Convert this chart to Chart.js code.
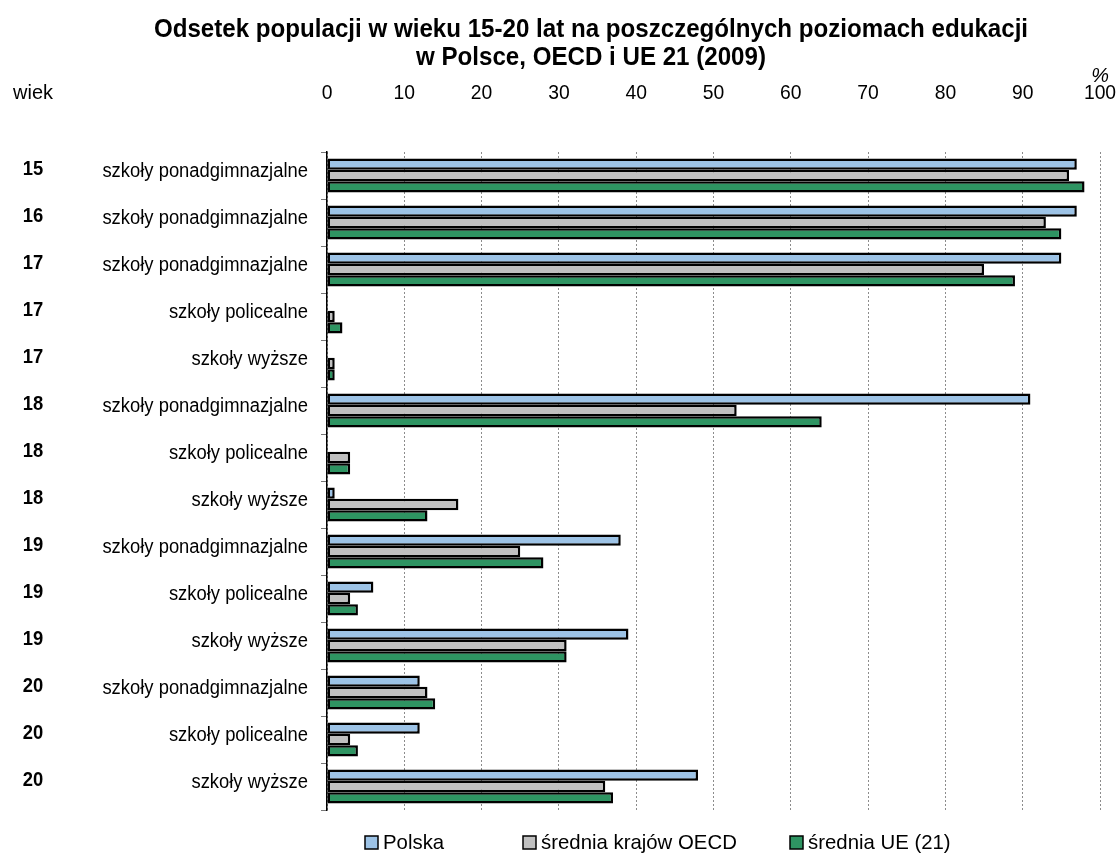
<!DOCTYPE html>
<html>
<head>
<meta charset="utf-8">
<script src="https://cdn.jsdelivr.net/npm/chart.js@4"></script>
<style>
  body { margin: 0; background: #fff; }
  #wrap { width: 1119px; height: 857px; }
</style>
</head>
<body>
<div id="wrap"><canvas id="chartOne" width="1119" height="857"></canvas></div>
<script>
// data
const ages = ["15", "16", "17", "17", "17", "18", "18", "18", "19", "19", "19", "20", "20", "20"];
const levels = [
  "szkoły ponadgimnazjalne", "szkoły ponadgimnazjalne", "szkoły ponadgimnazjalne",
  "szkoły policealne", "szkoły wyższe",
  "szkoły ponadgimnazjalne", "szkoły policealne", "szkoły wyższe",
  "szkoły ponadgimnazjalne", "szkoły policealne", "szkoły wyższe",
  "szkoły ponadgimnazjalne", "szkoły policealne", "szkoły wyższe"
];
const polska = [97, 97, 95, 0, 0, 91, 0, 1, 38, 6, 39, 12, 12, 48];
const oecd   = [96, 93, 85, 1, 1, 53, 3, 17, 25, 3, 31, 13, 3, 36];
const ue     = [98, 95, 89, 2, 1, 64, 3, 13, 28, 4, 31, 14, 4, 37];
const xTicks = [0, 10, 20, 30, 40, 50, 60, 70, 80, 90, 100];
const seriesNames = ["Polska", "średnia krajów OECD", "średnia UE (21)"];
const seriesColors = ["#9DC3E6", "#C0C0C0", "#2E9462"];

const FONT = "'Liberation Sans', Arial, sans-serif";

function makeSet(i, values) {
  return {
    label: seriesNames[i],
    data: values,
    backgroundColor: seriesColors[i],
    borderColor: "#000",
    borderWidth: 2.5,
    borderSkipped: false,
    categoryPercentage: 0.72,
    barPercentage: 1
  };
}

// text squeezed a little sideways, like the narrow font of the original
function narrowText(ctx, text, x, y, align, font, sx) {
  ctx.save();
  ctx.translate(x, y);
  ctx.scale(sx, 1);
  ctx.font = font;
  ctx.textAlign = align;
  ctx.textBaseline = "middle";
  ctx.fillText(text, 0, 0);
  ctx.restore();
}

const extras = {
  id: "extras",
  afterDraw(chart) {
    const ctx = chart.ctx;
    const xs = chart.scales.x;
    const ys = chart.scales.y;
    ctx.save();
    ctx.fillStyle = "#000";

    narrowText(ctx, "Odsetek populacji w wieku 15-20 lat na poszczególnych poziomach edukacji", 591, 30, "center", "bold 25px " + FONT, 0.965);
    narrowText(ctx, "w Polsce, OECD i UE 21 (2009)", 591, 58, "center", "bold 25px " + FONT, 0.965);
    narrowText(ctx, "%", 1100, 76, "center", "italic 21px " + FONT, 0.95);
    narrowText(ctx, "wiek", 33, 93, "center", "21px " + FONT, 0.95);

    xTicks.forEach(v => {
      narrowText(ctx, String(v), xs.getPixelForValue(v), 93, "center", "21px " + FONT, 0.92);
    });

    levels.forEach((lab, i) => {
      const y = ys.getPixelForValue(i);
      narrowText(ctx, lab, 308, y - 4, "right", "20px " + FONT, 0.92);
      narrowText(ctx, ages[i], 33, y - 6, "center", "bold 20px " + FONT, 0.92);
    });

    // legend
    const lx = [365, 523, 790];
    const ly = 843;
    seriesNames.forEach((name, i) => {
      ctx.fillStyle = seriesColors[i];
      ctx.fillRect(lx[i], ly - 7, 13, 13);
      ctx.strokeStyle = "#000";
      ctx.lineWidth = 1.5;
      ctx.strokeRect(lx[i], ly - 7, 13, 13);
      ctx.fillStyle = "#000";
      narrowText(ctx, name, lx[i] + 18, ly, "left", "21px " + FONT, 0.97);
    });
    ctx.restore();
  }
};

const chart = new Chart(document.getElementById("chartOne").getContext("2d"), {
  type: "bar",
  data: {
    labels: levels,
    datasets: [makeSet(0, polska), makeSet(1, oecd), makeSet(2, ue)]
  },
  options: {
    responsive: false,
    animation: false,
    indexAxis: "y",
    layout: { padding: { top: 152, right: 19, bottom: 47, left: 0 } },
    plugins: {
      legend: { display: false },
      title: { display: false },
      tooltip: { enabled: false }
    },
    scales: {
      x: {
        position: "top",
        min: 0,
        max: 100,
        afterFit(scale) { scale.height = 0; scale.paddingLeft = 0; scale.paddingRight = 0; },
        ticks: { stepSize: 10, display: false },
        grid: { color: "#8c8c8c", lineWidth: 1, drawTicks: false, tickLength: 0 },
        border: { display: false, dash: [2, 2] }
      },
      y: {
        afterFit(scale) { scale.width = 327; scale.paddingTop = 0; scale.paddingBottom = 0; },
        ticks: { display: false },
        grid: { drawOnChartArea: false, color: "#777", tickLength: 6 },
        border: { color: "#000", width: 1.5 }
      }
    }
  },
  plugins: [extras]
});
</script>
</body>
</html>
